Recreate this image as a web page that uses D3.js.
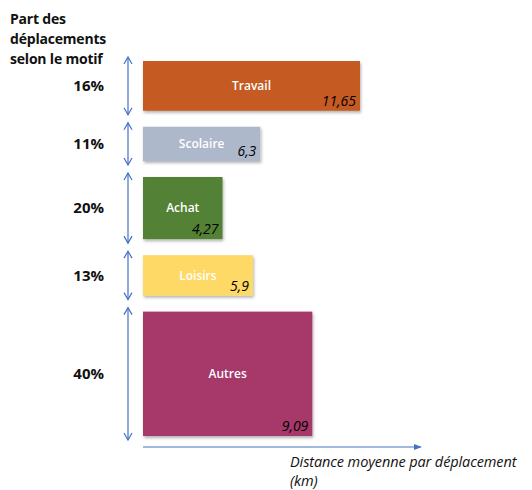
<!DOCTYPE html>
<html>
<head>
<meta charset="UTF-8">
<script src="https://d3js.org/d3.v7.min.js"></script>
<style>
  body { margin: 0; background: #fff; }
  .head { font: bold 14px "Open Sans", sans-serif; fill: #111; letter-spacing: -0.2px; }
  .pct { font: bold 15px "Open Sans", sans-serif; fill: #111; }
  .cat { font: 600 12px "Open Sans", sans-serif; fill: #fff; }
  .val { font: italic 14px "Open Sans", sans-serif; fill: #000; }
  .axlabel { font: italic 14.5px "Open Sans", sans-serif; fill: #111; letter-spacing: -0.1px; }
</style>
</head>
<body>
<script>
var categories = ["Travail", "Scolaire", "Achat", "Loisirs", "Autres"];
var shares = [16, 11, 20, 13, 40];            // % des déplacements
var distances = [11.65, 6.3, 4.27, 5.9, 9.09]; // km
var valueLabels = ["11,65", "6,3", "4,27", "5,9", "9,09"];
var colors = ["#C55A22", "#ADB9CA", "#538135", "#FFD966", "#A6386A"];

var W = 532, H = 490;
var svg = d3.select("body").append("svg").attr("width", W).attr("height", H);

var defs = svg.append("defs");
var f = defs.append("filter").attr("id", "shadow").attr("x", "-10%").attr("y", "-10%").attr("width", "130%").attr("height", "140%");
f.append("feDropShadow").attr("dx", 1).attr("dy", 2).attr("stdDeviation", 1.5).attr("flood-color", "#000").attr("flood-opacity", 0.3);
defs.append("marker").attr("id", "head").attr("viewBox", "0 0 10 10").attr("refX", 9).attr("refY", 5)
  .attr("markerWidth", 8).attr("markerHeight", 8).attr("markerUnits", "userSpaceOnUse").attr("orient", "auto")
  .append("path").attr("d", "M0,1 L10,5 L0,9 Z").attr("fill", "#4472C4");

var x0 = 143, gap = 16, yStart = 61;
var x = d3.scaleLinear().domain([0, 11.65]).range([x0, 360]);
var h = d3.scaleLinear().domain([0, 100]).range([0, 311]);

// cumulative y positions
var ys = [], yy = yStart;
shares.forEach(function(s) { ys.push(yy); yy += h(s) + gap; });

// header
svg.append("text").attr("class", "head").attr("x", 10).attr("y", 24)
  .selectAll("tspan").data(["Part des", "déplacements", "selon le motif"]).enter()
  .append("tspan").attr("x", 10).attr("dy", (d, i) => i ? 20 : 0).text(d => d);

var g = svg.selectAll(".bar").data(categories).enter().append("g").attr("class", "bar");

g.append("rect")
  .attr("x", x(0))
  .attr("y", (d, i) => ys[i])
  .attr("width", (d, i) => x(distances[i]) - x(0))
  .attr("height", (d, i) => h(shares[i]))
  .attr("fill", (d, i) => colors[i])
  .attr("filter", "url(#shadow)");

g.append("text").attr("class", "cat")
  .attr("x", (d, i) => (x(0) + x(distances[i])) / 2)
  .attr("y", (d, i) => ys[i] + h(shares[i]) / 2)
  .attr("dy", "0.35em").attr("text-anchor", "middle")
  .text(d => d);

g.append("text").attr("class", "val")
  .attr("x", (d, i) => x(distances[i]) - 4)
  .attr("y", (d, i) => ys[i] + h(shares[i]) - 5)
  .attr("text-anchor", "end")
  .text((d, i) => valueLabels[i]);

g.append("text").attr("class", "pct")
  .attr("x", 104)
  .attr("y", (d, i) => ys[i] + h(shares[i]) / 2)
  .attr("dy", "0.35em").attr("text-anchor", "end")
  .text((d, i) => shares[i] + "%");

// double-headed vertical arrows
var ax = 128;
g.each(function(d, i) {
  var s = d3.select(this);
  var y1 = ys[i] - 4, y2 = ys[i] + h(shares[i]) + 4;
  s.append("line").attr("x1", ax).attr("x2", ax).attr("y1", y1).attr("y2", y2)
    .attr("stroke", "#4472C4").attr("stroke-width", 1.2);
  s.append("path").attr("d", "M" + (ax - 4) + "," + (y1 + 7) + "L" + ax + "," + y1 + "L" + (ax + 4) + "," + (y1 + 7))
    .attr("fill", "none").attr("stroke", "#4472C4").attr("stroke-width", 1.2);
  s.append("path").attr("d", "M" + (ax - 4) + "," + (y2 - 7) + "L" + ax + "," + y2 + "L" + (ax + 4) + "," + (y2 - 7))
    .attr("fill", "none").attr("stroke", "#4472C4").attr("stroke-width", 1.2);
});

// x axis arrow
var axisY = 447;
svg.append("line").attr("x1", x0).attr("x2", 421).attr("y1", axisY).attr("y2", axisY)
  .attr("stroke", "#4472C4").attr("stroke-width", 1.2).attr("marker-end", "url(#head)");

svg.append("text").attr("class", "axlabel").attr("x", 290).attr("y", 467).text("Distance moyenne par déplacement");
svg.append("text").attr("class", "axlabel").attr("x", 290).attr("y", 486).text("(km)");
</script>
</body>
</html>
